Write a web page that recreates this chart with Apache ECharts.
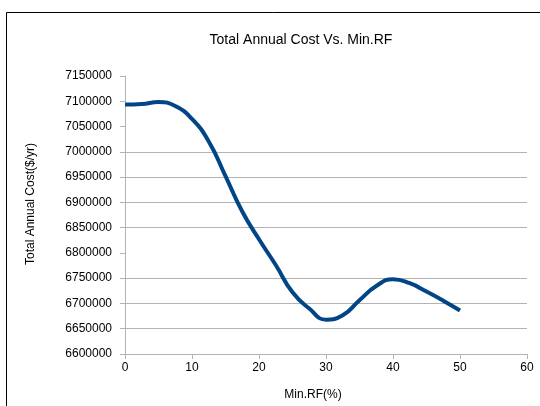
<!DOCTYPE html>
<html>
<head>
<meta charset="utf-8">
<script src="https://cdn.jsdelivr.net/npm/echarts@6/dist/echarts.min.js"></script>
<style>html,body{margin:0;padding:0;background:#fff}#c{width:540px;height:406px}</style>
</head>
<body>
<div id="c"></div>
<script>
const titleText = 'Total Annual Cost Vs. Min.RF';
const xName = 'Min.RF(%)';
const yName = 'Total Annual Cost($/yr)';
const minRF = [0, 2.5, 5, 7.5, 10, 12.5, 15, 17.5, 20, 22.5, 25, 27.5, 30, 32.5, 35, 37.5, 40, 42.5, 45, 47.5, 50];
const totalCost = [7093500, 7094500, 7098500, 7090500, 7065000, 7020500, 6952000, 6882000, 6827000, 6776000, 6722000, 6690000, 6668000, 6676500, 6706500, 6734500, 6748000, 6740000, 6723500, 6705500, 6686000];
const yGridValues = [6650000, 6700000, 6750000, 6850000, 6900000, 6950000, 7000000];

const chart = echarts.init(document.getElementById('c'));
const gridColors = [];
for (let v = 6600000; v <= 7150000; v += 50000) {
  gridColors.push(yGridValues.indexOf(v) >= 0 ? '#b3b3b3' : 'rgba(0,0,0,0)');
}
chart.setOption({
  animation: false,
  backgroundColor: '#fff',
  title: {
    text: titleText, left: 296, top: 28, textAlign: 'center',
    textStyle: { fontFamily: 'Liberation Sans', fontSize: 14, fontWeight: 'normal', color: '#000' }
  },
  graphic: [{
    type: 'rect', shape: { x: 6.5, y: 12.5, width: 600, height: 500 },
    style: { fill: 'none', stroke: '#000', lineWidth: 1 }, silent: true
  }],
  grid: { left: 125, right: 13, top: 76, bottom: 52, containLabel: false },
  xAxis: {
    type: 'value', min: 0, max: 60, interval: 10,
    name: xName, nameLocation: 'middle', nameGap: 35,
    nameTextStyle: { fontFamily: 'Liberation Sans', fontSize: 12, color: '#000', padding: [0, 26, 0, 0] },
    axisLine: { show: true, lineStyle: { color: '#b3b3b3' } },
    axisTick: { show: true, length: 5, lineStyle: { color: '#b3b3b3' } },
    axisLabel: { fontFamily: 'Liberation Sans', fontSize: 12, color: '#000', margin: 8 },
    splitLine: { show: true, showMinLine: false, showMaxLine: true, lineStyle: { color: ['rgba(0,0,0,0)','rgba(0,0,0,0)','rgba(0,0,0,0)','rgba(0,0,0,0)','rgba(0,0,0,0)','rgba(0,0,0,0)','#b3b3b3'] } }
  },
  yAxis: {
    type: 'value', min: 6600000, max: 7150000, interval: 50000,
    name: yName, nameLocation: 'middle', nameGap: 88, nameRotate: 90,
    nameTextStyle: { fontFamily: 'Liberation Sans', fontSize: 12, color: '#000', padding: [0, 0, 0, 22] },
    axisLine: { show: true, lineStyle: { color: '#b3b3b3' } },
    axisTick: { show: true, length: 5, lineStyle: { color: '#b3b3b3' } },
    axisLabel: { fontFamily: 'Liberation Sans', fontSize: 12, color: '#000', margin: 13, formatter: (v) => String(v) },
    splitLine: { show: true, showMinLine: true, lineStyle: { color: gridColors } }
  },
  series: [{
    type: 'line',
    data: minRF.map((x, i) => [x, totalCost[i]]),
    smooth: 0.5,
    showSymbol: false,
    lineStyle: { color: '#004586', width: 4 },
    itemStyle: { color: '#004586' }
  }]
});
</script>
</body>
</html>
